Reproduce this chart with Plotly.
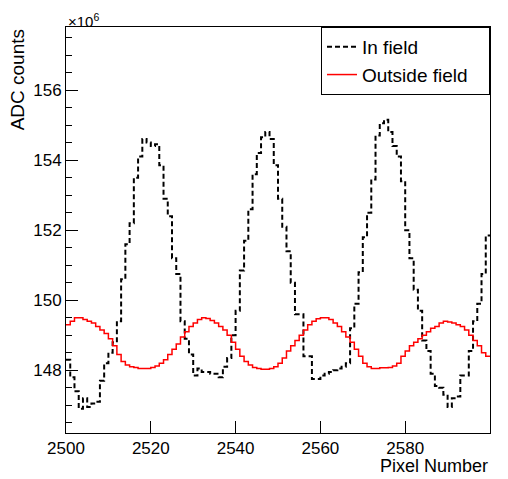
import plotly.graph_objects as go

# Bin left edges 2500..2599 (100 bins of width 1)
bin_start = 2500
bin_end = 2600

in_field = [
    148.3, 147.8, 147.4, 146.9, 147.2, 146.95, 147.05, 147.1, 147.7, 148.2,
    148.5, 148.8, 149.4, 150.6, 151.6, 152.2, 153.5, 154.1, 154.6, 154.5,
    154.4, 154.45, 153.85, 152.9, 152.4, 151.2, 150.75, 149.4, 148.9, 148.45,
    147.85, 148.05, 147.95, 147.95, 147.9, 147.9, 147.8, 148.1, 148.35, 149.0,
    149.7, 150.85, 151.7, 152.6, 153.6, 154.2, 154.65, 154.8, 154.6, 153.85,
    152.9, 152.1, 151.4, 150.5, 149.6, 149.6, 148.4, 148.4, 147.75, 147.75,
    147.85, 147.9, 147.95, 148.0, 148.05, 148.1, 148.2, 149.2, 149.9, 150.8,
    151.8, 152.5, 153.45, 154.7, 155.05, 155.15, 154.8, 154.4, 154.1, 153.4,
    152.0, 151.2, 150.3, 149.7, 148.85, 148.55, 147.9, 147.55, 147.5, 147.3,
    146.95, 147.2, 147.25, 147.85, 147.85, 148.55, 149.4, 149.9, 150.75, 151.85,
]

outside_field = [
    149.3, 149.4, 149.5, 149.5, 149.45, 149.4, 149.35, 149.25, 149.15, 149.05,
    148.9, 148.7, 148.45, 148.25, 148.15, 148.1, 148.08, 148.05, 148.05, 148.05,
    148.08, 148.12, 148.2, 148.3, 148.45, 148.6, 148.75, 148.95, 149.1, 149.25,
    149.35, 149.45, 149.5, 149.48, 149.42, 149.35, 149.25, 149.15, 149.0, 148.8,
    148.6, 148.4, 148.25, 148.15, 148.08, 148.05, 148.03, 148.03, 148.05, 148.1,
    148.2, 148.35, 148.55, 148.7, 148.85, 149.0, 149.15, 149.3, 149.4, 149.47,
    149.5, 149.5, 149.45, 149.35, 149.25, 149.1, 148.95, 148.8, 148.6, 148.4,
    148.2, 148.1, 148.05, 148.05, 148.07, 148.07, 148.08, 148.12, 148.2, 148.4,
    148.55, 148.7, 148.8, 148.9, 149.0, 149.1, 149.2, 149.25, 149.35, 149.4,
    149.38, 149.35, 149.3, 149.25, 149.15, 149.0, 148.85, 148.7, 148.5, 148.4,
]

y_ticks = [148, 150, 152, 154, 156]
x_ticks = [2500, 2520, 2540, 2560, 2580, 2600]

edges = list(range(bin_start, bin_end + 1))

FONT = "Liberation Sans, Arial, Helvetica, sans-serif"
PAD = "\u00a0\u00a0\u00a0"

fig = go.Figure()
fig.add_trace(go.Scatter(
    x=edges, y=in_field + [in_field[-1]], mode="lines", line_shape="hv",
    line=dict(color="black", width=2, dash="5px,3px"),
    name="In field", legendgroup="a",
))
fig.add_trace(go.Scatter(
    x=edges, y=outside_field + [outside_field[-1]], mode="lines", line_shape="hv",
    line=dict(color="#ff0000", width=1.5),
    name="Outside field" + PAD, legendgroup="b",
))

fig.update_layout(
    width=508, height=479,
    margin=dict(l=66, r=18, t=27, b=46),
    paper_bgcolor="white", plot_bgcolor="white",
    font=dict(family=FONT, size=17, color="black"),
    showlegend=True,
    legend=dict(
        x=1, y=1, xanchor="right", yanchor="top",
        bordercolor="black", borderwidth=1, bgcolor="white",
        font=dict(size=19), traceorder="grouped", tracegroupgap=0,
    ),
    xaxis=dict(
        range=[bin_start, bin_end], tickvals=x_ticks,
        ticks="inside", ticklen=12, tickwidth=1, tickcolor="black",
        showline=True, linecolor="black", linewidth=1, mirror=True,
        showgrid=False, zeroline=False,
    ),
    yaxis=dict(
        range=[146.21, 157.8], tickvals=y_ticks,
        ticks="inside", ticklen=12, tickwidth=1, tickcolor="black",
        minor=dict(dtick=0.5, tick0=146, ticks="inside", ticklen=6, tickcolor="black", showgrid=False),
        showline=True, linecolor="black", linewidth=1, mirror=True,
        showgrid=False, zeroline=False,
    ),
    annotations=[
        dict(text="ADC counts", xref="paper", yref="paper", x=-0.143, y=1.0,
             xanchor="left", yanchor="top", textangle=-90, showarrow=False,
             font=dict(size=19)),
        dict(text="Pixel Number", xref="paper", yref="paper", x=1.0, y=-0.082,
             xanchor="right", yanchor="middle", showarrow=False,
             font=dict(size=18)),
        dict(text="×10<sup>6</sup>", xref="paper", yref="paper", x=0.0, y=1.0,
             xanchor="left", yanchor="bottom", yshift=-5, showarrow=False,
             font=dict(size=15)),
    ],
)

fig.write_html(
    "out.html",
    config={"displayModeBar": False},
    post_script="document.body.style.margin='0';document.body.style.padding='0';",
)
